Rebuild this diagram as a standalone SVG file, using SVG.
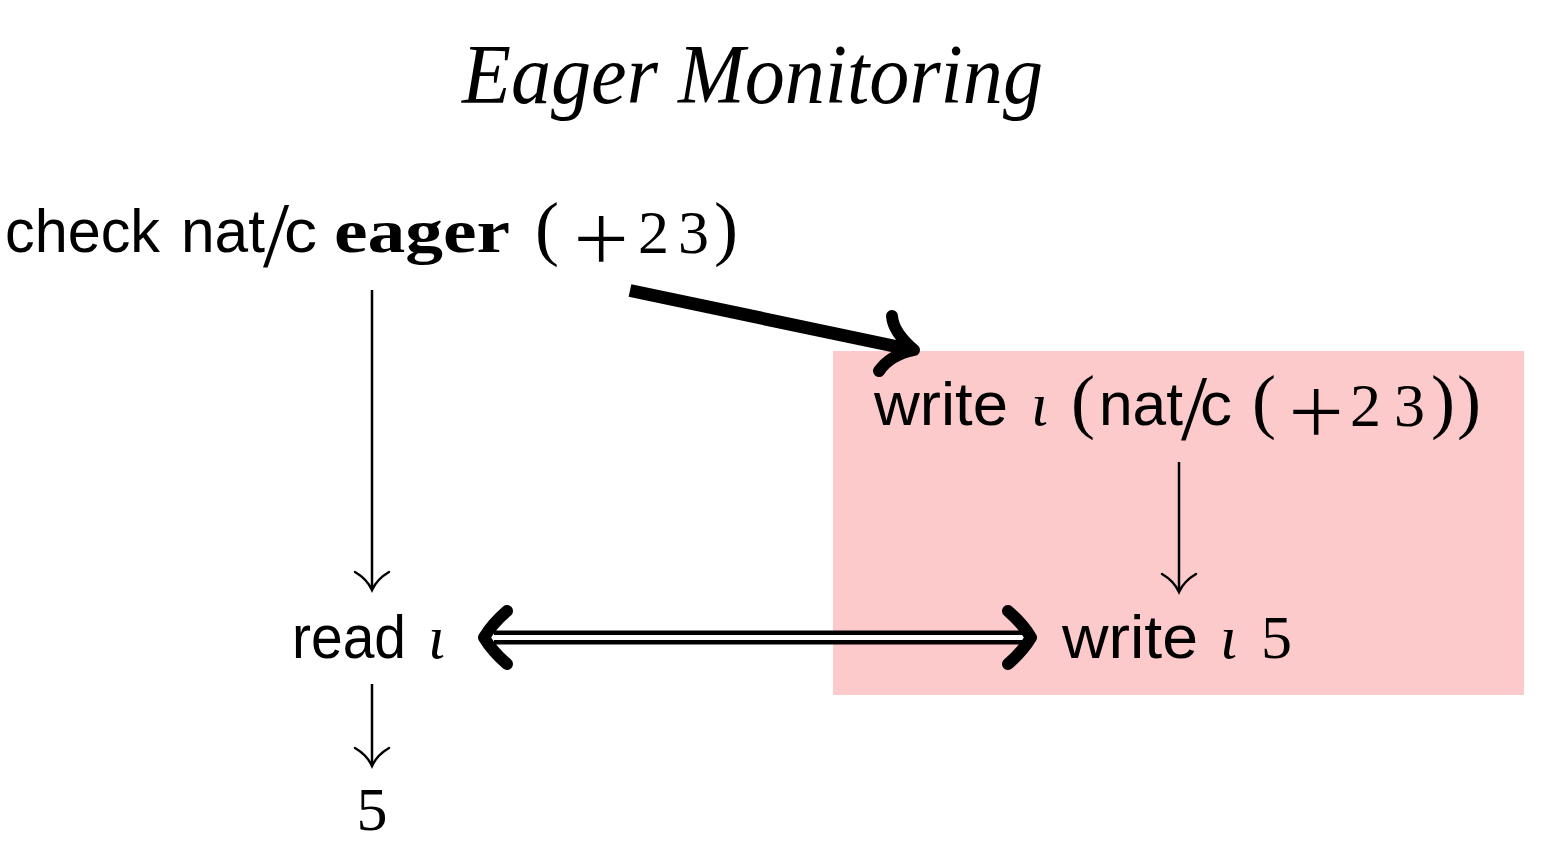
<svg xmlns="http://www.w3.org/2000/svg" width="1560" height="863" viewBox="0 0 1560 863">
<style>
.sans{font-family:"Liberation Sans","DejaVu Sans",sans-serif;font-size:62px;fill:#000}
.sl{font-family:"Liberation Serif","DejaVu Serif",serif;font-size:94px;fill:#000}
.ser{font-family:"Liberation Serif","DejaVu Serif",serif;font-size:62px;fill:#000}
.par{font-family:"Liberation Serif","DejaVu Serif",serif;font-size:72px;fill:#000}
.plus{font-family:Inter,"Liberation Sans",sans-serif;font-weight:200;font-size:106px;fill:#000}
.it{font-family:"Liberation Serif","DejaVu Serif",serif;font-style:italic;font-size:62px;fill:#000}
.bold{font-family:"Liberation Serif","DejaVu Serif",serif;font-weight:bold;font-size:62px;fill:#000}
.thin{stroke:#000;stroke-width:2.5;fill:none}
.head{stroke:#000;stroke-width:2.5;fill:none;stroke-linecap:round}
.thick{stroke:#000;stroke-width:12;fill:none;stroke-linecap:round;stroke-linejoin:round}
</style>
<rect width="1560" height="863" fill="#fff"/>
<rect id="shade" x="833" y="351" width="691" height="344" fill="#FCCACA"/>
<text id="title" x="462" y="103" font-family="Liberation Serif, DejaVu Serif, serif" font-style="italic" font-size="84" textLength="581" lengthAdjust="spacingAndGlyphs">Eager Monitoring</text>

<g id="node-check">
<text class="sans" x="5" y="252" textLength="155" lengthAdjust="spacingAndGlyphs">check</text>
<text class="sans" x="181" y="252" textLength="84" lengthAdjust="spacingAndGlyphs">nat</text>
<text class="sl" x="263" y="266">/</text>
<text class="sans" x="284" y="252" textLength="33" lengthAdjust="spacingAndGlyphs">c</text>
<text class="bold" x="334" y="252" textLength="176" lengthAdjust="spacingAndGlyphs">eager</text>
<text class="par" x="535" y="252">(</text>
<text class="plus" x="567" y="269">+</text>
<text class="ser" x="638" y="253">2</text>
<text class="ser" x="678" y="253">3</text>
<text class="par" x="714" y="252">)</text>
</g>

<g id="node-write-contract">
<text class="sans" x="874" y="425" textLength="134" lengthAdjust="spacingAndGlyphs">write</text>
<text class="it" x="1031" y="425">ι</text>
<text class="par" x="1071" y="425">(</text>
<text class="sans" x="1099" y="425" textLength="84" lengthAdjust="spacingAndGlyphs">nat</text>
<text class="sl" x="1181" y="439">/</text>
<text class="sans" x="1200" y="425" textLength="32" lengthAdjust="spacingAndGlyphs">c</text>
<text class="par" x="1252" y="425">(</text>
<text class="plus" x="1282" y="442">+</text>
<text class="ser" x="1350" y="426">2</text>
<text class="ser" x="1394" y="426">3</text>
<text class="par" x="1431" y="425">)</text>
<text class="par" x="1457" y="425">)</text>
</g>

<g id="node-read">
<text class="sans" x="292" y="658" textLength="114" lengthAdjust="spacingAndGlyphs">read</text>
<text class="it" x="428" y="658">ι</text>
</g>

<g id="node-write5">
<text class="sans" x="1062" y="658" textLength="136" lengthAdjust="spacingAndGlyphs">write</text>
<text class="it" x="1220" y="658">ι</text>
<text class="ser" x="1261" y="658">5</text>
</g>

<g id="node-5">
<text class="ser" x="372" y="830" text-anchor="middle">5</text>
</g>

<g id="connectors">
<line class="thin" x1="372" y1="290" x2="372" y2="588"/>
<path class="head" d="M355,572 Q367,579 372,590 Q377,579 389,572"/>
<line class="thin" x1="1179" y1="462" x2="1179" y2="590"/>
<path class="head" d="M1162,574 Q1174,581 1179,592 Q1184,581 1196,574"/>
<line class="thin" x1="372" y1="684" x2="372" y2="764"/>
<path class="head" d="M355,748 Q367,755 372,766 Q377,755 389,748"/>
<line x1="630" y1="290.5" x2="908" y2="349" stroke="#000" stroke-width="13"/>
<path class="thick" d="M892,316 Q893,332 914,350 Q890,355 879,371"/>
<line x1="494" y1="637.5" x2="1024" y2="637.5" stroke="#000" stroke-width="14"/>
<line x1="494" y1="637.5" x2="1024" y2="637.5" stroke="#fff" stroke-width="5"/>
<path class="thick" d="M507,611 Q492,624 484,637.5 Q492,651 507,664"/>
<path class="thick" d="M1008,611 Q1023,624 1031,637.5 Q1023,651 1008,664"/>
</g>
</svg>
